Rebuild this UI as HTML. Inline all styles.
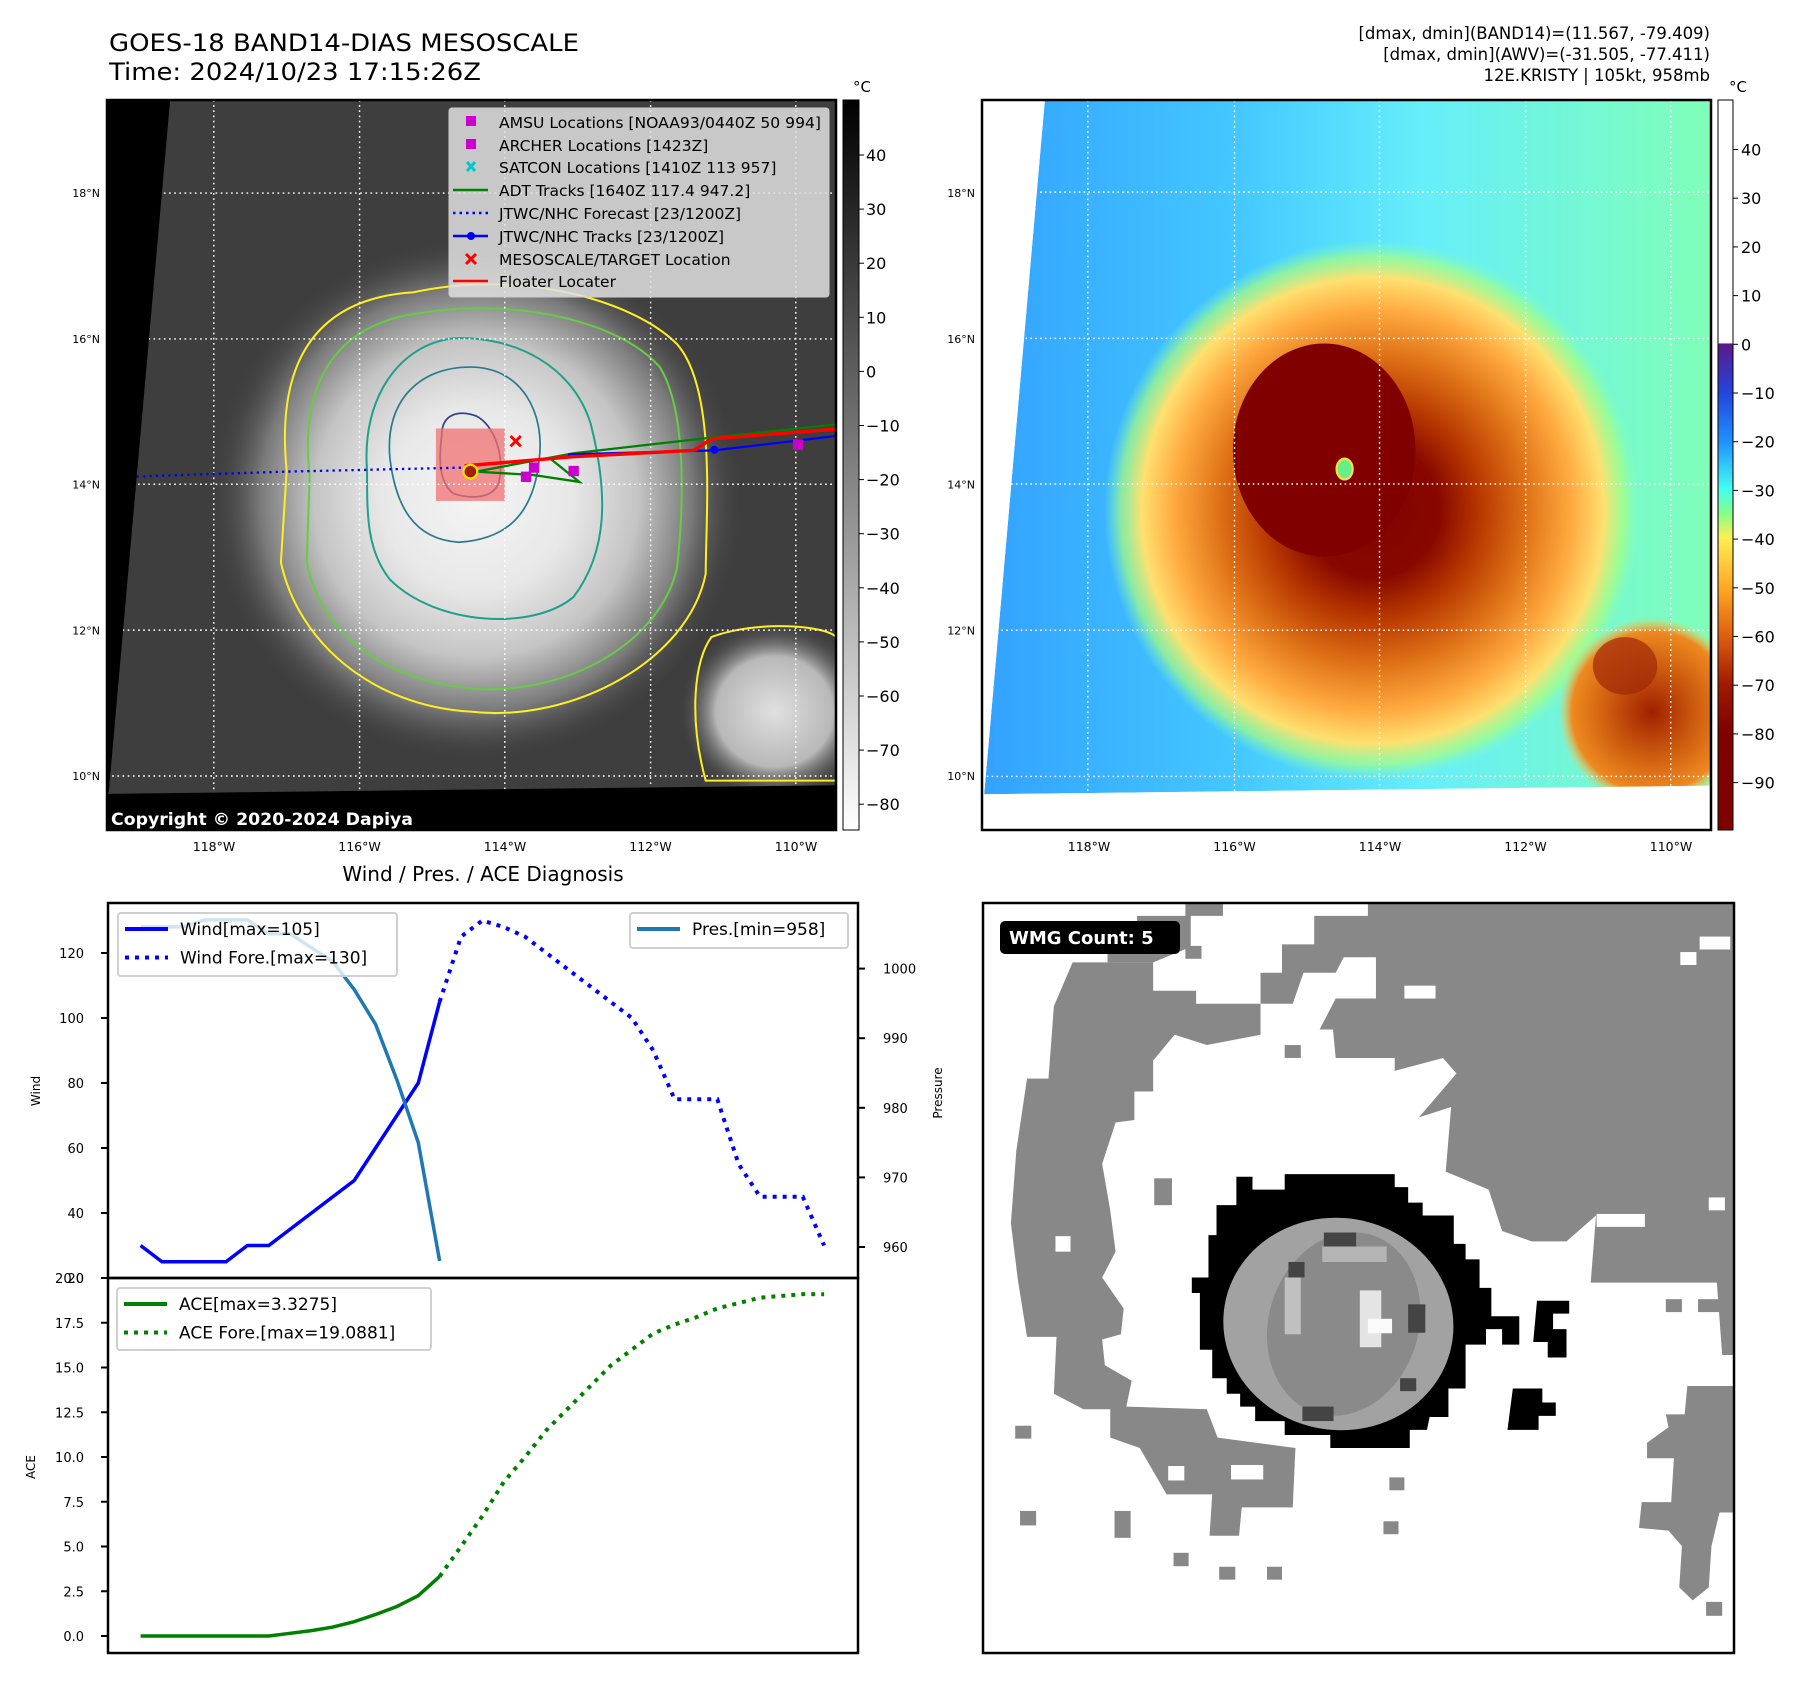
<!DOCTYPE html>
<html><head><meta charset="utf-8"><title>GOES-18 BAND14 Kristy</title>
<style>
html,body{margin:0;padding:0;background:#fff;}
svg text{font-family:"DejaVu Sans","Liberation Sans",sans-serif;}
</style></head>
<body>
<svg id="root" xmlns="http://www.w3.org/2000/svg" width="1801" height="1690" viewBox="0 0 1801 1690">
<defs>
  <radialGradient id="cloud1" cx="0.5" cy="0.5" r="0.5">
    <stop offset="0" stop-color="#f4f4f4"/>
    <stop offset="0.35" stop-color="#e8e8e8"/>
    <stop offset="0.6" stop-color="#c4c4c4"/>
    <stop offset="0.8" stop-color="#7a7a7a"/>
    <stop offset="1" stop-color="#3c3c3c" stop-opacity="0"/>
  </radialGradient>
  <radialGradient id="cloud2" cx="0.5" cy="0.5" r="0.5">
    <stop offset="0" stop-color="#e0e0e0"/>
    <stop offset="0.6" stop-color="#b8b8b8"/>
    <stop offset="1" stop-color="#3c3c3c" stop-opacity="0"/>
  </radialGradient>
  <linearGradient id="sea2" x1="0" y1="0" x2="1" y2="0">
    <stop offset="0" stop-color="#33a2ff"/>
    <stop offset="0.35" stop-color="#44c8ff"/>
    <stop offset="0.6" stop-color="#66eefa"/>
    <stop offset="1" stop-color="#80ffb8"/>
  </linearGradient>
  <radialGradient id="storm2" cx="0.5" cy="0.5" r="0.5">
    <stop offset="0" stop-color="#800000"/>
    <stop offset="0.25" stop-color="#880800"/>
    <stop offset="0.4" stop-color="#b83800"/>
    <stop offset="0.58" stop-color="#e07418"/>
    <stop offset="0.74" stop-color="#ffaa40"/>
    <stop offset="0.86" stop-color="#ffe070"/>
    <stop offset="0.94" stop-color="#a8ff80" stop-opacity="0.7"/>
    <stop offset="1" stop-color="#80ffc0" stop-opacity="0"/>
  </radialGradient>
  <radialGradient id="blob2" cx="0.5" cy="0.5" r="0.5">
    <stop offset="0" stop-color="#a02000"/>
    <stop offset="0.5" stop-color="#d06010"/>
    <stop offset="0.85" stop-color="#ee8a20"/>
    <stop offset="1" stop-color="#ffcc55" stop-opacity="0"/>
  </radialGradient>
  <linearGradient id="cb1" x1="0" y1="0" x2="0" y2="1">
    <stop offset="0" stop-color="#000"/>
    <stop offset="1" stop-color="#fff"/>
  </linearGradient>
  <linearGradient id="cb2" x1="0" y1="0" x2="0" y2="1">
    <stop offset="0" stop-color="#fff"/>
    <stop offset="0.333" stop-color="#fff"/>
    <stop offset="0.334" stop-color="#5b1a8c"/>
    <stop offset="0.4" stop-color="#2244dd"/>
    <stop offset="0.467" stop-color="#1e90ff"/>
    <stop offset="0.533" stop-color="#44fff0"/>
    <stop offset="0.567" stop-color="#88ff88"/>
    <stop offset="0.6" stop-color="#ffee55"/>
    <stop offset="0.667" stop-color="#ffaa22"/>
    <stop offset="0.733" stop-color="#e06010"/>
    <stop offset="0.8" stop-color="#a01a00"/>
    <stop offset="0.867" stop-color="#800000"/>
    <stop offset="1" stop-color="#800000"/>
  </linearGradient>
</defs>

<!-- Titles -->
<text x="109" y="51" font-size="24" textLength="470" lengthAdjust="spacingAndGlyphs">GOES-18 BAND14-DIAS MESOSCALE</text>
<text x="109" y="80" font-size="24" textLength="372" lengthAdjust="spacingAndGlyphs">Time: 2024/10/23 17:15:26Z</text>
<g font-size="16.5" text-anchor="end">
  <text x="1710" y="39">[dmax, dmin](BAND14)=(11.567, -79.409)</text>
  <text x="1710" y="60">[dmax, dmin](AWV)=(-31.505, -77.411)</text>
  <text x="1710" y="81">12E.KRISTY | 105kt, 958mb</text>
</g>

<!-- MAP 1: grayscale IR -->
<svg x="107" y="100" width="729" height="730" viewBox="187 175 1270 1271" preserveAspectRatio="none">
  <rect x="187" y="175" width="1270" height="1271" fill="#3e3e3e"/>
  <ellipse cx="830" cy="870" rx="470" ry="460" fill="url(#cloud1)"/>
  <ellipse cx="1350" cy="1240" rx="170" ry="160" fill="url(#cloud2)"/>
  <g fill="none" stroke-width="3.5">
    <path d="M500,820 C480,620 560,520 720,510 C900,470 1100,520 1180,600 C1250,680 1230,900 1230,1000 C1200,1150 1000,1260 820,1240 C650,1230 520,1120 490,980 Z" stroke="#ffee22"/>
    <path d="M1240,1110 C1320,1080 1440,1090 1457,1110 L1457,1360 L1230,1360 C1200,1250 1210,1150 1240,1110 Z" stroke="#ffee22"/>
    <path d="M540,830 C520,650 600,560 740,545 C900,520 1080,560 1150,640 C1200,720 1190,900 1180,990 C1150,1120 990,1210 830,1200 C680,1190 560,1110 535,980 Z" stroke="#66cc44"/>
    <path d="M640,820 C630,690 700,600 790,590 C900,585 1000,640 1030,740 C1060,860 1060,960 1000,1040 C930,1100 760,1090 680,1010 C640,960 640,900 640,820 Z" stroke="#20a08a"/>
    <path d="M680,800 C670,700 730,640 820,640 C910,640 950,720 940,800 C930,900 880,940 800,945 C720,940 690,880 680,800 Z" stroke="#2a7a90" stroke-width="3"/>
    <path d="M770,760 C770,720 800,715 830,725 C860,740 880,790 870,840 C860,870 820,870 790,860 C765,840 765,800 770,760 Z" stroke="#334488" stroke-width="3"/>
  </g>
  <rect x="760" y="747" width="120" height="126" fill="#f07070" opacity="0.75"/>
  <g stroke="#fff" stroke-width="2.5" stroke-dasharray="3,6">
    <line x1="373" y1="175" x2="373" y2="1446"/><line x1="627" y1="175" x2="627" y2="1446"/><line x1="880" y1="175" x2="880" y2="1446"/><line x1="1134" y1="175" x2="1134" y2="1446"/><line x1="1387" y1="175" x2="1387" y2="1446"/>
    <line x1="187" y1="337" x2="1457" y2="337"/><line x1="187" y1="591" x2="1457" y2="591"/><line x1="187" y1="844" x2="1457" y2="844"/><line x1="187" y1="1098" x2="1457" y2="1098"/><line x1="187" y1="1352" x2="1457" y2="1352"/>
  </g>
  <polyline points="195,832 500,822 810,815" fill="none" stroke="#0000ff" stroke-width="4" stroke-dasharray="4,7"/>
  <polyline points="830,822 1000,790 1220,765 1457,740" fill="none" stroke="#008000" stroke-width="4"/>
  <polyline points="830,822 930,828 1010,840 960,800" fill="none" stroke="#008000" stroke-width="4"/>
  <polyline points="990,792 1245,785 1457,760" fill="none" stroke="#0000ff" stroke-width="4"/>
  <circle cx="1245" cy="784" r="7" fill="#0000ff"/>
  <polyline points="810,812 1000,796 1210,785 1240,765 1457,748" fill="none" stroke="#ff0000" stroke-width="6"/>
  <g fill="#cc00cc">
    <rect x="908" y="822" width="18" height="18"/><rect x="922" y="806" width="18" height="18"/><rect x="991" y="812" width="18" height="18"/><rect x="1382" y="766" width="18" height="18"/>
  </g>
  <circle cx="820" cy="822" r="12" fill="#a02010" stroke="#ffdd00" stroke-width="4"/>
  <path d="M890,760 L908,778 M908,760 L890,778" stroke="#ff0000" stroke-width="5"/>
  <polygon points="187,175 297,175 190,1380 187,1380" fill="#000"/>
  <polygon points="187,1383 1457,1368 1457,1446 187,1446" fill="#000"/>
</svg>
<rect x="107" y="100" width="729" height="730" fill="none" stroke="#000" stroke-width="2.5"/>
<text x="111" y="825" font-size="17" font-weight="bold" fill="#fff" textLength="302" lengthAdjust="spacingAndGlyphs">Copyright © 2020-2024 Dapiya</text>

<g>
  <rect x="449" y="108" width="380" height="189" rx="3" fill="#e0e0e0" fill-opacity="0.85" stroke="#ccc"/>
  <rect x="466" y="116" width="10" height="10" fill="#cc00cc"/>
  <rect x="466" y="139" width="10" height="10" fill="#cc00cc"/>
  <path d="M467,162 L475,171 M475,162 L467,171" stroke="#00c8c8" stroke-width="3"/>
  <line x1="453" y1="190" x2="488" y2="190" stroke="#008000" stroke-width="2.5"/>
  <line x1="453" y1="213" x2="488" y2="213" stroke="#0000ff" stroke-width="2.5" stroke-dasharray="2.5,4"/>
  <line x1="453" y1="236" x2="488" y2="236" stroke="#0000ff" stroke-width="2.5"/><circle cx="471" cy="236" r="4" fill="#0000ff"/>
  <path d="M466,254 L476,264 M476,254 L466,264" stroke="#ff0000" stroke-width="3"/>
  <line x1="453" y1="281" x2="488" y2="281" stroke="#ff0000" stroke-width="2.5"/>
  <g font-size="15.5" fill="#000">
    <text x="499" y="128" textLength="322" lengthAdjust="spacingAndGlyphs">AMSU Locations [NOAA93/0440Z 50 994]</text>
    <text x="499" y="151">ARCHER Locations [1423Z]</text>
    <text x="499" y="173">SATCON Locations [1410Z 113 957]</text>
    <text x="499" y="196">ADT Tracks [1640Z 117.4 947.2]</text>
    <text x="499" y="219">JTWC/NHC Forecast [23/1200Z]</text>
    <text x="499" y="242">JTWC/NHC Tracks [23/1200Z]</text>
    <text x="499" y="265">MESOSCALE/TARGET Location</text>
    <text x="499" y="287">Floater Locater</text>
  </g>
</g>

<rect x="843" y="100" width="16" height="730" fill="url(#cb1)" stroke="#000" stroke-width="1"/>
<text x="853" y="92" font-size="15">°C</text>
<g id="cb1ticks" font-size="16"></g>

<!-- MAP 2 -->
<svg x="982" y="100" width="729" height="730" viewBox="43 177 1357 1268" preserveAspectRatio="none">
  <rect x="43" y="177" width="1357" height="1268" fill="#fff"/>
  <polygon points="160,177 1400,177 1400,1368 47,1383" fill="url(#sea2)"/>
  <ellipse cx="770" cy="890" rx="500" ry="470" fill="url(#storm2)"/>
  <ellipse cx="1290" cy="1240" rx="175" ry="165" fill="url(#blob2)"/>
  <ellipse cx="1240" cy="1160" rx="60" ry="50" fill="#a02808" opacity="0.7"/>
  <ellipse cx="680" cy="785" rx="170" ry="185" fill="#800000"/>
  <ellipse cx="718" cy="818" rx="15" ry="18" fill="#66ee88" stroke="#ffdd44" stroke-width="4"/>
  <polygon points="160,177 47,1383 43,1383 43,177" fill="#fff"/>
  <polygon points="47,1383 1400,1368 1400,1445 43,1445" fill="#fff"/>
  <g stroke="#fff" stroke-width="2.5" stroke-dasharray="3,6">
    <line x1="240" y1="177" x2="240" y2="1380"/><line x1="513" y1="177" x2="513" y2="1380"/><line x1="783" y1="177" x2="783" y2="1380"/><line x1="1055" y1="177" x2="1055" y2="1375"/><line x1="1325" y1="177" x2="1325" y2="1370"/>
    <line x1="43" y1="337" x2="1400" y2="337"/><line x1="43" y1="591" x2="1400" y2="591"/><line x1="43" y1="844" x2="1400" y2="844"/><line x1="43" y1="1098" x2="1400" y2="1098"/><line x1="43" y1="1352" x2="1400" y2="1352"/>
  </g>
</svg>
<rect x="982" y="100" width="729" height="730" fill="none" stroke="#000" stroke-width="2.5"/>
<rect x="1718" y="100" width="15" height="730" fill="url(#cb2)" stroke="#000" stroke-width="1"/>
<text x="1729" y="92" font-size="15">°C</text>
<g id="cb2ticks" font-size="16"></g>

<g id="maplabels" font-size="12.5"></g>

<text x="483" y="881" font-size="20" text-anchor="middle">Wind / Pres. / ACE Diagnosis</text>
<g id="chart"></g>

<!-- WMG panel -->
<svg x="983" y="903" width="751" height="750" viewBox="43 45 1399 1452" preserveAspectRatio="none">
  <rect x="43" y="45" width="1399" height="1452" fill="#fff"/>
  <g fill="#888">
    <polygon points="210,160 360,160 360,215 440,215 440,240 560,240 560,300 460,320 400,300 360,350 360,410 325,410 325,465 290,470 265,550 280,640 290,720 265,770 305,830 300,880 265,890 270,940 320,970 310,1020 460,1025 480,1080 625,1100 620,1215 525,1215 520,1270 465,1270 470,1190 385,1190 335,1100 280,1080 280,1025 230,1025 175,995 180,885 125,885 108,775 95,665 105,525 125,385 165,385 175,245"/>
    <polygon points="275,130 330,130 330,70 420,70 420,45 490,45 490,70 430,70 430,130 360,160 275,160"/>
    <polygon points="560,240 560,180 600,180 600,125 660,125 660,70 760,70 760,45 1440,45 1440,920 1420,920 1410,780 1175,780 1185,650 1130,700 1065,700 1010,680 985,600 905,565 915,440 855,460 925,375 900,345 810,370 810,345 700,345 695,290 670,290 700,230 775,230 775,150 715,150 700,180 640,180 620,240"/>
    <polygon points="1355,980 1440,980 1440,1225 1415,1225 1400,1290 1395,1370 1365,1395 1340,1370 1345,1290 1320,1260 1265,1255 1270,1205 1325,1205 1330,1120 1280,1120 1280,1090 1320,1060 1315,1035 1350,1035"/>
    <rect x="103" y="1057" width="30" height="25"/><rect x="112" y="1222" width="30" height="28"/><rect x="288" y="1222" width="30" height="52"/><rect x="398" y="1303" width="28" height="26"/><rect x="483" y="1330" width="30" height="25"/><rect x="572" y="1330" width="28" height="25"/><rect x="800" y="1157" width="28" height="25"/><rect x="789" y="1242" width="28" height="25"/><rect x="362" y="578" width="33" height="52"/><rect x="605" y="320" width="30" height="25"/><rect x="1315" y="812" width="30" height="25"/><rect x="1375" y="812" width="60" height="25"/><rect x="1390" y="1398" width="30" height="27"/><rect x="420" y="128" width="30" height="25"/>
  </g>
  <g fill="#fff">
    <rect x="178" y="690" width="28" height="30"/><rect x="828" y="205" width="58" height="25"/><rect x="1342" y="140" width="30" height="25"/><rect x="1378" y="110" width="57" height="25"/><rect x="1186" y="647" width="90" height="25"/><rect x="1395" y="615" width="30" height="25"/><rect x="505" y="1133" width="60" height="28"/><rect x="388" y="1135" width="30" height="28"/>
  </g>
  <polygon points="515,575 545,575 545,600 605,600 605,570 810,570 810,595 835,595 835,625 862,625 862,650 920,650 920,705 942,705 942,735 968,735 968,790 990,790 990,845 1042,845 1042,900 1010,900 1010,870 980,870 980,900 942,900 942,985 910,985 910,1040 875,1040 870,1065 838,1065 838,1100 690,1100 690,1075 605,1075 605,1048 550,1048 550,1020 522,1020 522,995 497,995 497,965 470,965 470,910 447,910 447,800 432,800 432,770 463,770 463,688 478,688 478,630 515,630" fill="#000"/>
  <ellipse cx="705" cy="860" rx="215" ry="205" transform="rotate(15 705 860)" fill="#a2a2a2"/>
  <ellipse cx="715" cy="860" rx="140" ry="180" transform="rotate(15 715 860)" fill="#8a8a8a"/>
  <rect x="678" y="683" width="60" height="28" fill="#444"/><rect x="612" y="740" width="30" height="30" fill="#444"/><rect x="835" y="822" width="32" height="55" fill="#444"/><rect x="638" y="1020" width="58" height="28" fill="#444"/><rect x="820" y="965" width="30" height="25" fill="#444"/>
  <rect x="605" y="770" width="30" height="110" fill="#c0c0c0"/><rect x="745" y="795" width="40" height="110" fill="#e4e4e4"/><rect x="760" y="850" width="45" height="28" fill="#fafafa"/><rect x="675" y="710" width="120" height="30" fill="#b4b4b4"/>
  <polygon points="1075,815 1135,815 1135,840 1105,840 1105,870 1130,870 1130,925 1095,925 1095,895 1068,895" fill="#000"/>
  <polygon points="1030,985 1085,985 1085,1012 1110,1012 1110,1038 1078,1038 1078,1065 1020,1065" fill="#000"/>
</svg>
<rect x="983" y="903" width="751" height="750" fill="none" stroke="#000" stroke-width="2.5"/>
<g>
  <rect x="1000" y="921" width="180" height="33" rx="5" fill="#000"/>
  <text x="1009" y="944" font-size="18" font-weight="bold" fill="#fff">WMG Count: 5</text>
</g>

<script>
var windObs = [30,25,25,25,25,30,30,35,40,45,50,60,70,80,105];
var windFore = [105,125,130,128,125,120,115,110,105,100,90,75,75,75,55,45,45,45,30];
var presObs = [1006,1006,1006,1007,1007,1007,1005,1005,1003,1001,997,992,984,975,958];
var aceObs = [0,0,0,0,0,0,0,0.15,0.3,0.5,0.8,1.2,1.65,2.25,3.3275];
var aceFore = [3.3275,5.0,6.7,8.6,10.0,11.5,12.7,13.9,15.1,16.0,16.9,17.4,17.8,18.3,18.6,18.9,19.0,19.1,19.09];
var windTicks = [20,40,60,80,100,120];
var presTicks = [960,970,980,990,1000];
var aceTicks = [0,2.5,5,7.5,10,12.5,15,17.5,20];
var cb1Ticks = [40,30,20,10,0,-10,-20,-30,-40,-50,-60,-70,-80];
var cb2Ticks = [40,30,20,10,0,-10,-20,-30,-40,-50,-60,-70,-80,-90];
var latTicks = ["18°N","16°N","14°N","12°N","10°N"];
var lonTicks = ["118°W","116°W","114°W","112°W","110°W"];

var NS = "http://www.w3.org/2000/svg";
function mk(parent, tag, attrs, txt) {
  var e = document.createElementNS(NS, tag);
  for (var k in attrs) e.setAttribute(k, attrs[k]);
  if (txt !== undefined) e.textContent = txt;
  parent.appendChild(e);
  return e;
}
function xIdx(i) { return 140.6 + i * 21.36; }
function yWind(v) { return 1278 - (v - 20) * 3.25; }
function yPres(p) { return 1247 - (p - 960) * 6.96; }
function yAce(a) { return 1636 - a * 17.9; }
function yCb1(v) { return 155 + (40 - v) * 5.41; }
function yCb2(v) { return 149.5 + (40 - v) * 4.87; }
function pts(arr, off, yf) { return arr.map(function (v, i) { return xIdx(i + off) + "," + yf(v); }).join(" "); }

var g1 = document.getElementById("cb1ticks");
cb1Ticks.forEach(function (v) {
  var y = yCb1(v);
  mk(g1, "line", {x1: 859, x2: 864, y1: y, y2: y, stroke: "#000"});
  var t = mk(g1, "text", {x: 866, y: y + 6}, v < 0 ? "\u2212" + (-v) : String(v));
  
  
});
var g2 = document.getElementById("cb2ticks");
cb2Ticks.forEach(function (v) {
  var y = yCb2(v);
  mk(g2, "line", {x1: 1733, x2: 1738, y1: y, y2: y, stroke: "#000"});
  var t = mk(g2, "text", {x: 1741, y: y + 6}, v < 0 ? "\u2212" + (-v) : String(v));
  
  
});

var ml = document.getElementById("maplabels");
latTicks.forEach(function (s, i) {
  var y = 193 + i * 145.8 + 4;
  var a = mk(ml, "text", {x: 100, y: y, "text-anchor": "end", "font-size": "11"}, s);
  
  
  var b = mk(ml, "text", {x: 975, y: y, "text-anchor": "end", "font-size": "11"}, s);
  
  
});
lonTicks.forEach(function (s, i) {
  var x = 214 + i * 145.5;
  var a = mk(ml, "text", {x: x, y: 851, "text-anchor": "middle"}, s);
  
  
  var b = mk(ml, "text", {x: x + 875, y: 851, "text-anchor": "middle"}, s);
  
  
});

var c = document.getElementById("chart");
var fr1 = mk(c, "rect", {x: 108, y: 903, width: 750, height: 375, fill: "none", stroke: "#000", "stroke-width": 2.5});


var fr2 = mk(c, "rect", {x: 108, y: 1278, width: 750, height: 375, fill: "none", stroke: "#000", "stroke-width": 2.5});



windTicks.forEach(function (v) {
  var y = yWind(v);
  mk(c, "line", {x1: 101, x2: 108, y1: y, y2: y, stroke: "#000", "stroke-width": 2});
  var t = mk(c, "text", {x: 84, y: y + 5, "text-anchor": "end", "font-size": "13"}, String(v));
  
  
});
presTicks.forEach(function (p) {
  var y = yPres(p);
  mk(c, "line", {x1: 858, x2: 865, y1: y, y2: y, stroke: "#000", "stroke-width": 2});
  var t = mk(c, "text", {x: 883, y: y + 5, "font-size": "13"}, String(p));
  
  
});
aceTicks.forEach(function (a) {
  var y = yAce(a);
  mk(c, "line", {x1: 101, x2: 108, y1: y, y2: y, stroke: "#000", "stroke-width": 2});
  var t = mk(c, "text", {x: 84, y: y + 5, "text-anchor": "end", "font-size": "13"}, a.toFixed(1));
  
  
});
var wl = mk(c, "text", {x: 40, y: 1091, "font-size": "12", "text-anchor": "middle", transform: "rotate(-90 40 1091)"}, "Wind");


var al = mk(c, "text", {x: 35, y: 1467, "font-size": "12", "text-anchor": "middle", transform: "rotate(-90 35 1467)"}, "ACE");


var pl = mk(c, "text", {x: 942, y: 1093, "font-size": "12", "text-anchor": "middle", transform: "rotate(-90 942 1093)"}, "Pressure");



var l1 = mk(c, "polyline", {points: pts(windObs, 0, yWind), fill: "none", stroke: "#0000ff", "stroke-width": 3.5});


var l2 = mk(c, "polyline", {points: pts(windFore, 14, yWind), fill: "none", stroke: "#0000ff", "stroke-width": 4, "stroke-dasharray": "4,6"});


var l3 = mk(c, "polyline", {points: pts(presObs, 0, yPres), fill: "none", stroke: "#1f77b4", "stroke-width": 3.5});


var l4 = mk(c, "polyline", {points: pts(aceObs, 0, yAce), fill: "none", stroke: "#008000", "stroke-width": 3.5});


var l5 = mk(c, "polyline", {points: pts(aceFore, 14, yAce), fill: "none", stroke: "#008000", "stroke-width": 4, "stroke-dasharray": "4,6"});



function legend(x, y, w, h, items, name) {
  var g = mk(c, "g", {});
  
  
  mk(g, "rect", {x: x, y: y, width: w, height: h, rx: 3, fill: "#fff", "fill-opacity": 0.8, stroke: "#d0d0d0", "stroke-width": 2});
  items.forEach(function (it, i) {
    var yy = y + 16 + i * 28.5;
    var ln = {x1: x + 7, x2: x + 50, y1: yy, y2: yy, stroke: it.c, "stroke-width": 4};
    if (it.d) ln["stroke-dasharray"] = "4,6";
    mk(g, "line", ln);
    mk(g, "text", {x: x + 62, y: yy + 6, "font-size": "17"}, it.t);
  });
}
legend(118, 913, 279, 63, [{c: "#0000ff", t: "Wind[max=105]"}, {c: "#0000ff", t: "Wind Fore.[max=130]", d: 1}], "wind-legend");
legend(630, 913, 218, 35, [{c: "#1f77b4", t: "Pres.[min=958]"}], "pressure-legend");
legend(117, 1288, 314, 62, [{c: "#008000", t: "ACE[max=3.3275]"}, {c: "#008000", t: "ACE Fore.[max=19.0881]", d: 1}], "ace-legend");
</script>
</svg>
</body></html>
